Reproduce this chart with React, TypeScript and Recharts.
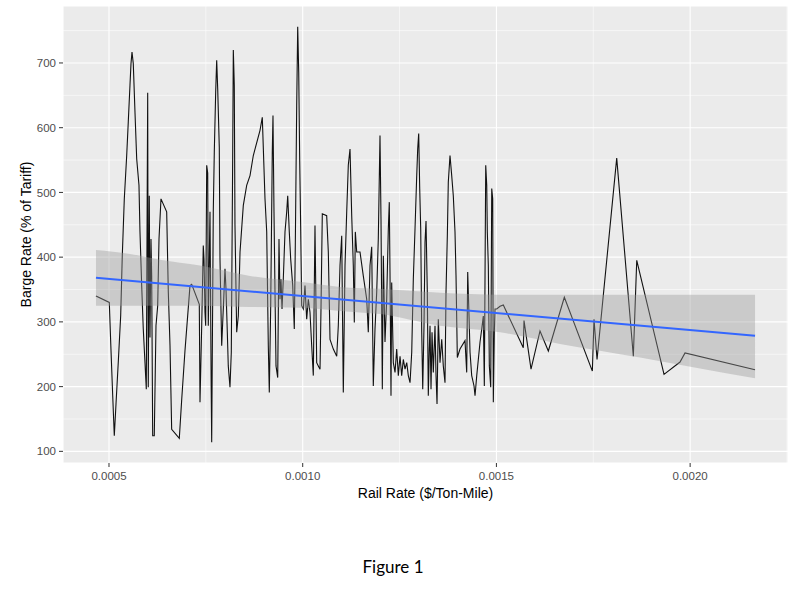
import { ComposedChart, Line, Area, XAxis, YAxis, CartesianGrid, ReferenceLine } from "recharts";

// rail rate ($/ton-mile), sorted as geom_line draws it
const railRate = [
  0.0004664, 0.0005008, 0.0005044, 0.0005096, 0.0005137, 0.0005181, 0.000524, 0.0005302, 0.0005343, 0.0005395,
  0.0005457, 0.0005498, 0.0005542, 0.0005568, 0.0005594, 0.0005627, 0.0005671, 0.0005715, 0.0005774, 0.00058,
  0.0005844, 0.0005885, 0.0005929, 0.0005963, 0.0005999, 0.0006014, 0.000604, 0.0006058, 0.0006084, 0.0006102,
  0.0006128, 0.0006169, 0.0006213, 0.0006257, 0.0006291, 0.0006342, 0.0006489, 0.0006531, 0.0006575, 0.0006618,
  0.0006815, 0.0006877, 0.0006962, 0.0007091, 0.0007135, 0.0007331, 0.0007349, 0.0007393, 0.0007434, 0.0007452,
  0.0007478, 0.0007496, 0.0007522, 0.0007548, 0.0007563, 0.0007607, 0.0007638, 0.0007651, 0.0007692, 0.0007718,
  0.0007754, 0.000778, 0.0007806, 0.0007847, 0.0007865, 0.0007909, 0.000795, 0.0007994, 0.000802, 0.0008054,
  0.0008079, 0.0008123, 0.0008157, 0.0008193, 0.0008209, 0.0008234, 0.0008252, 0.0008296, 0.0008338, 0.0008382,
  0.0008467, 0.0008554, 0.000864, 0.0008725, 0.0008898, 0.0008957, 0.0009027, 0.0009071, 0.0009112, 0.0009138,
  0.0009174, 0.0009215, 0.0009233, 0.0009259, 0.0009285, 0.0009311, 0.0009355, 0.0009388, 0.0009414, 0.000944,
  0.0009466, 0.0009499, 0.0009543, 0.0009587, 0.0009613, 0.0009654, 0.000969, 0.0009742, 0.0009783, 0.0009809,
  0.0009845, 0.0009871, 0.0009897, 0.0009923, 0.0009948, 0.0009974, 0.0010016, 0.0010059, 0.0010085, 0.0010103,
  0.0010145, 0.0010188, 0.0010232, 0.0010274, 0.0010317, 0.0010361, 0.0010403, 0.0010447, 0.0010472, 0.0010506,
  0.0010619, 0.0010661, 0.0010705, 0.001079, 0.0010878, 0.0010919, 0.0010963, 0.0011007, 0.0011048, 0.0011092,
  0.0011136, 0.0011177, 0.0011221, 0.0011265, 0.0011306, 0.0011332, 0.0011358, 0.0011394, 0.0011479, 0.0011564,
  0.0011652, 0.0011693, 0.0011737, 0.0011781, 0.0011822, 0.0011866, 0.001191, 0.0011951, 0.0011995, 0.0012021,
  0.0012055, 0.0012081, 0.0012124, 0.0012168, 0.001221, 0.0012235, 0.0012253, 0.0012279, 0.0012297, 0.0012339,
  0.0012383, 0.0012426, 0.0012468, 0.0012512, 0.0012555, 0.0012597, 0.0012641, 0.0012685, 0.0012726, 0.001277,
  0.0012814, 0.0012855, 0.0012899, 0.0012943, 0.0012968, 0.0012994, 0.001302, 0.0013046, 0.0013072, 0.0013098,
  0.0013131, 0.0013157, 0.0013183, 0.0013216, 0.0013242, 0.0013268, 0.0013286, 0.0013312, 0.0013338, 0.0013371,
  0.0013415, 0.0013441, 0.0013467, 0.00135, 0.0013544, 0.0013588, 0.0013629, 0.0013673, 0.0013699, 0.0013733,
  0.0013758, 0.0013802, 0.0013846, 0.0013887, 0.0013931, 0.0013957, 0.0013991, 0.001406, 0.0014189, 0.0014233,
  0.0014259, 0.0014293, 0.0014319, 0.0014362, 0.0014422, 0.0014448, 0.0014492, 0.0014533, 0.0014577, 0.0014621,
  0.0014662, 0.0014688, 0.0014706, 0.0014724, 0.001475, 0.0014765, 0.0014791, 0.0014817, 0.0014853, 0.0014879,
  0.0014904, 0.001492, 0.0014946, 0.0014964, 0.0015008, 0.0015093, 0.0015178, 0.0015694, 0.0015712, 0.0015893,
  0.0016125, 0.001634, 0.0016753, 0.0017476, 0.0017519, 0.0017597, 0.0018105, 0.0018534, 0.0018622, 0.0019326,
  0.0019739, 0.0019868, 0.0021675,
];

// barge rate (% of tariff)
const bargeRate = [
  340, 330, 269, 186, 124, 173, 238, 310, 402, 490,
  557, 609, 666, 699, 717, 699, 624, 552, 511, 439,
  356, 289, 237, 196, 654, 199, 495, 276, 428, 371,
  124, 124, 294, 325, 428, 490, 470, 346, 263, 134,
  120, 180, 256, 356, 358, 327, 176, 294, 418, 397,
  315, 294, 542, 530, 294, 470, 199, 114, 470, 562,
  655, 704, 660, 570, 397, 263, 320, 382, 351, 284,
  232, 199, 253, 557, 720, 665, 449, 284, 309, 408,
  480, 511, 526, 557, 596, 616, 490, 439, 263, 191,
  325, 563, 619, 470, 346, 232, 214, 428, 335, 366,
  320, 366, 439, 470, 495, 439, 397, 356, 289, 418,
  634, 756, 686, 547, 444, 325, 320, 356, 325, 304,
  335, 315, 263, 217, 449, 237, 232, 227, 320, 467,
  464, 408, 273, 258, 247, 294, 387, 433, 191, 387,
  470, 542, 567, 464, 387, 299, 439, 408, 408, 371,
  335, 284, 387, 416, 201, 289, 346, 428, 588, 459,
  196, 402, 269, 335, 444, 485, 377, 186, 361, 237,
  222, 258, 217, 247, 217, 242, 227, 237, 217, 206,
  253, 366, 444, 526, 567, 591, 506, 444, 284, 196,
  294, 423, 456, 346, 186, 258, 294, 196, 284, 222,
  294, 217, 173, 304, 237, 273, 232, 206, 346, 433,
  516, 557, 526, 495, 439, 372, 245, 258, 271, 222,
  377, 309, 253, 217, 201, 186, 217, 242, 269, 289,
  309, 201, 372, 542, 511, 439, 387, 232, 199, 506,
  490, 176, 284, 320, 320, 324, 326, 260, 302, 227,
  286, 255, 338, 224, 304, 242, 553, 247, 395, 219,
  238, 252, 226,
];

// lm smooth: fitted line and 95% band
const fitRail = [0.0004664, 0.0021675];
const fitBarge = [368, 278.5];
const bandRail = [
  0.0004664, 0.0005542, 0.0006316, 0.0007349, 0.000864, 0.000993, 0.0010963,
  0.0011995, 0.0013544, 0.0015093, 0.0016642, 0.0018707, 0.0020255, 0.0021675,
];
const bandLow = [325, 325, 325, 325, 323, 322, 317, 312, 294, 284, 266, 245, 228, 213];
const bandHigh = [411, 405, 396, 387, 371, 362, 354, 351, 345, 342, 342, 342, 342, 342];

const xTicks = [0.0005, 0.001, 0.0015, 0.002];
const xMinor = [0.00075, 0.00125, 0.00175, 0.00225];
const yTicks = [100, 200, 300, 400, 500, 600, 700];
const yMinor = [150, 250, 350, 450, 550, 650, 750];

const lineData = railRate.map((x, i) => ({ x, barge: bargeRate[i] }));
const fitData = fitRail.map((x, i) => ({ x, fit: fitBarge[i] }));
const bandData = bandRail.map((x, i) => ({ x, band: [bandLow[i], bandHigh[i]] }));

const font = "'Liberation Sans', Arial, sans-serif";

export default function App() {
  return (
    <div style={{ position: "absolute", left: 0, top: 0, width: 799, height: 597, background: "#fff" }}>
      <ComposedChart width={799} height={510} margin={{ top: 6, right: 11, bottom: 0, left: 0 }}>
        <CartesianGrid fill="#EBEBEB" stroke="#FFFFFF" strokeWidth={1.1} />
        {yMinor.map((v) => (
          <ReferenceLine key={"y" + v} y={v} stroke="#FFFFFF" strokeWidth={0.55} zIndex={-50} />
        ))}
        {xMinor.map((v) => (
          <ReferenceLine key={"x" + v} x={v} stroke="#FFFFFF" strokeWidth={0.55} zIndex={-50} />
        ))}
        <XAxis
          type="number"
          dataKey="x"
          domain={[0.0003813, 0.0022526]}
          allowDataOverflow
          ticks={xTicks}
          tickFormatter={(v: number) => v.toFixed(4)}
          height={47}
          axisLine={false}
          tickLine={{ stroke: "#333333" }}
          tickSize={4}
          tickMargin={5}
          tick={{ fill: "#4D4D4D", fontSize: 11.5, fontFamily: font }}
          label={{
            value: "Rail Rate ($/Ton-Mile)",
            position: "insideBottom",
            offset: 12,
            style: { fill: "#000", fontSize: 14, fontFamily: font },
          }}
        />
        <YAxis
          type="number"
          domain={[82, 788]}
          allowDataOverflow
          ticks={yTicks}
          width={63}
          axisLine={false}
          tickLine={{ stroke: "#333333" }}
          tickSize={4}
          tickMargin={3}
          tick={{ fill: "#4D4D4D", fontSize: 11.5, fontFamily: font }}
          label={{
            value: "Barge Rate (% of Tariff)",
            angle: -90,
            position: "insideLeft",
            offset: 26,
            style: { fill: "#000", fontSize: 14, fontFamily: font, textAnchor: "middle" },
          }}
        />
        <Line
          data={lineData}
          dataKey="barge"
          type="linear"
          stroke="#111111"
          strokeWidth={1.1}
          dot={false}
          activeDot={false}
          isAnimationActive={false}
          zIndex={100}
        />
        <Area
          data={bandData}
          dataKey="band"
          type="monotone"
          stroke="none"
          fill="#999999"
          fillOpacity={0.4}
          isAnimationActive={false}
          zIndex={200}
        />
        <Line
          data={fitData}
          dataKey="fit"
          type="linear"
          stroke="#3366FF"
          strokeWidth={2}
          dot={false}
          activeDot={false}
          isAnimationActive={false}
          zIndex={300}
        />
      </ComposedChart>
      <div
        style={{
          position: "absolute",
          top: 556,
          left: 0,
          width: 786,
          textAlign: "center",
          fontFamily: "Lato, 'Open Sans', sans-serif",
          fontSize: 17,
          color: "#000",
        }}
      >
        Figure 1
      </div>
    </div>
  );
}
